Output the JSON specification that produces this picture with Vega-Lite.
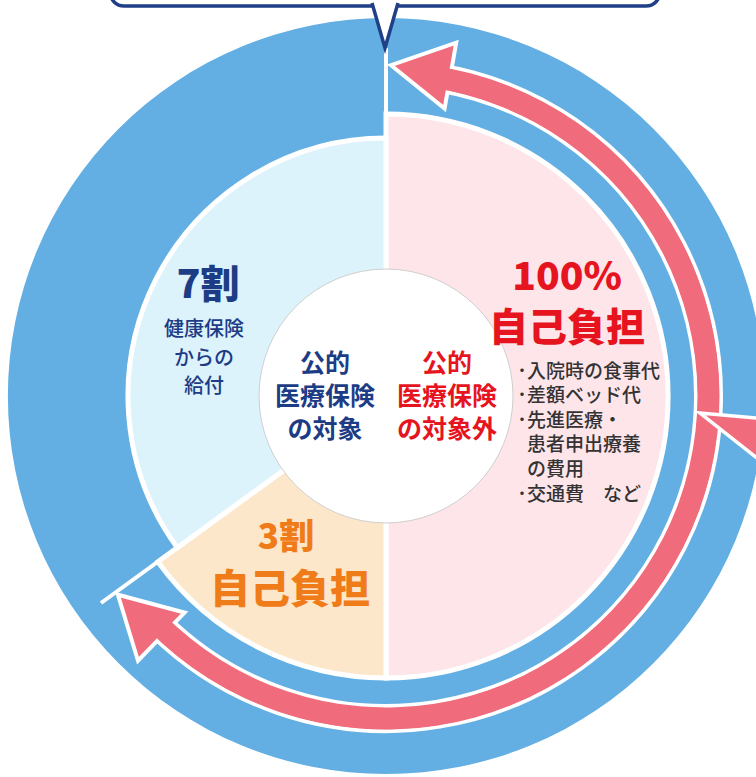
{
  "$schema": "https://vega.github.io/schema/vega-lite/v6.json",
  "width": 740,
  "height": 762,
  "autosize": {"type": "none"},
  "padding": {"left": 16, "top": 15, "right": 0, "bottom": 0},
  "background": "white",
  "config": {"view": {"stroke": null}},
  "datasets": {
    "segments": [
      {"区分": "公的医療保険の対象外（100%自己負担）", "share": 50, "順": 1},
      {"区分": "3割 自己負担", "share": 15, "順": 2},
      {"区分": "7割 健康保険からの給付", "share": 35, "順": 3}
    ]
  },
  "layer": [
    {
      "data": {"values": [{"part": "outer"}]},
      "mark": {"type": "arc", "radius": 378, "radius2": 0, "theta": 0, "theta2": 6.2832, "fill": "#63afe3"},
      "encoding": {}
    },
    {
      "data": {"values": [{"part": "band"}]},
      "mark": {"type": "arc", "radius": 335, "radius2": 310, "theta": 0.16, "theta2": 3.92, "fill": "#f06b7b", "stroke": "white", "strokeWidth": 4},
      "encoding": {}
    },
    {
      "data": {"values": [{"x": 38, "y": 325, "dir": 190}, {"x": -244, "y": -222, "dir": 224}]},
      "mark": {"type": "point", "shape": "M1,0 L-0.8,-1 L-0.8,1 Z", "filled": true, "fill": "#f06b7b", "stroke": "white", "strokeWidth": 4, "opacity": 1, "size": 4489},
      "encoding": {
        "x": {"field": "x", "type": "quantitative", "scale": {"domain": [-370, 370], "nice": false, "zero": false}, "axis": null},
        "y": {"field": "y", "type": "quantitative", "scale": {"domain": [-381, 381], "nice": false, "zero": false}, "axis": null},
        "angle": {"field": "dir", "type": "quantitative", "scale": null}
      }
    },
    {
      "data": {"values": [{"part": "band"}]},
      "mark": {"type": "arc", "radius": 333.5, "radius2": 311.5, "theta": 0.14, "theta2": 3.94, "fill": "#f06b7b"},
      "encoding": {}
    },
    {
      "data": {"values": [{"x": 354, "y": -39}]},
      "mark": {"type": "point", "shape": "M1.2,-0.35 L-1,-0.55 L1.2,1.19", "filled": true, "fill": "#f06b7b", "stroke": "white", "strokeWidth": 3.5, "opacity": 1, "size": 6400},
      "encoding": {
        "x": {"field": "x", "type": "quantitative", "scale": {"domain": [-370, 370], "nice": false, "zero": false}, "axis": null},
        "y": {"field": "y", "type": "quantitative", "scale": {"domain": [-381, 381], "nice": false, "zero": false}, "axis": null}
      }
    },
    {
      "data": {"name": "segments"},
      "mark": {"type": "arc", "radius": 282, "stroke": "white", "strokeWidth": 5},
      "encoding": {
        "theta": {"field": "share", "type": "quantitative", "stack": true},
        "order": {"field": "順", "type": "quantitative"},
        "color": {"field": "区分", "type": "nominal", "legend": null,
          "scale": {"domain": ["公的医療保険の対象外（100%自己負担）", "3割 自己負担", "7割 健康保険からの給付"], "range": ["#fde5ea", "#fde7cb", "#ddf3fc"]}},
        "opacity": {"condition": {"test": "datum['順'] === 3", "value": 0}, "value": 1}
      }
    },
    {
      "data": {"name": "segments"},
      "mark": {"type": "arc", "radius": 258, "stroke": "white", "strokeWidth": 5},
      "encoding": {
        "theta": {"field": "share", "type": "quantitative", "stack": true},
        "order": {"field": "順", "type": "quantitative"},
        "color": {"field": "区分", "type": "nominal", "legend": null},
        "opacity": {"condition": {"test": "datum['順'] === 3", "value": 1}, "value": 0}
      }
    },
    {
      "data": {"values": [{"x": 0, "y": 0, "x2": 0, "y2": 348}, {"x": 0, "y": 0, "x2": -285, "y2": -207}]},
      "mark": {"type": "rule", "stroke": "white", "strokeWidth": 4},
      "encoding": {
        "x": {"field": "x", "type": "quantitative", "scale": {"domain": [-370, 370], "nice": false, "zero": false}, "axis": null},
        "y": {"field": "y", "type": "quantitative", "scale": {"domain": [-381, 381], "nice": false, "zero": false}, "axis": null},
        "x2": {"field": "x2"},
        "y2": {"field": "y2"}
      }
    },
    {
      "data": {"values": [{"part": "center"}]},
      "mark": {"type": "arc", "radius": 127, "radius2": 0, "theta": 0, "theta2": 6.2832, "fill": "white", "stroke": "#cfcfcf", "strokeWidth": 1},
      "encoding": {}
    },
    {
      "data": {"values": [{"x": -276, "x2": 274, "y": 390, "y2": 440}]},
      "mark": {"type": "rect", "fill": "white", "stroke": "#1f3f87", "strokeWidth": 3.5, "cornerRadius": 14},
      "encoding": {
        "x": {"field": "x", "type": "quantitative", "scale": {"domain": [-370, 370], "nice": false, "zero": false}, "axis": null},
        "y": {"field": "y", "type": "quantitative", "scale": {"domain": [-381, 381], "nice": false, "zero": false}, "axis": null},
        "x2": {"field": "x2"},
        "y2": {"field": "y2"}
      }
    },
    {
      "data": {"values": [{"x": -1, "y": 370}]},
      "mark": {"type": "point", "shape": "M-0.52,-0.92 L0,0.88 L0.52,-0.92", "filled": true, "fill": "white", "stroke": "#1f3f87", "strokeWidth": 3.5, "opacity": 1, "size": 2500},
      "encoding": {
        "x": {"field": "x", "type": "quantitative", "scale": {"domain": [-370, 370], "nice": false, "zero": false}, "axis": null},
        "y": {"field": "y", "type": "quantitative", "scale": {"domain": [-381, 381], "nice": false, "zero": false}, "axis": null}
      }
    },
    {
      "data": {"values": [{"t": "7割", "x": -178, "y": 110}]},
      "mark": {"type": "text", "font": "Noto Sans CJK JP", "fontSize": 39, "fontWeight": 900, "fill": "#1d3c86", "align": "center", "baseline": "middle"},
      "encoding": {
        "x": {"field": "x", "type": "quantitative", "scale": {"domain": [-370, 370], "nice": false, "zero": false}, "axis": null},
        "y": {"field": "y", "type": "quantitative", "scale": {"domain": [-381, 381], "nice": false, "zero": false}, "axis": null},
        "text": {"field": "t"}
      }
    },
    {
      "data": {"values": [{"t": "健康保険\nからの\n給付", "x": -182, "y": 66}]},
      "mark": {"type": "text", "font": "Noto Sans CJK JP", "fontSize": 20, "fontWeight": 500, "fill": "#1d3c86", "align": "center", "baseline": "middle", "lineBreak": "\n", "lineHeight": 28.5},
      "encoding": {
        "x": {"field": "x", "type": "quantitative", "scale": {"domain": [-370, 370], "nice": false, "zero": false}, "axis": null},
        "y": {"field": "y", "type": "quantitative", "scale": {"domain": [-381, 381], "nice": false, "zero": false}, "axis": null},
        "text": {"field": "t"}
      }
    },
    {
      "data": {"values": [{"t": "公的\n医療保険\nの対象", "x": -61, "y": 32}]},
      "mark": {"type": "text", "font": "Noto Sans CJK JP", "fontSize": 25, "fontWeight": "bold", "fill": "#1d3c86", "align": "center", "baseline": "middle", "lineBreak": "\n", "lineHeight": 33},
      "encoding": {
        "x": {"field": "x", "type": "quantitative", "scale": {"domain": [-370, 370], "nice": false, "zero": false}, "axis": null},
        "y": {"field": "y", "type": "quantitative", "scale": {"domain": [-381, 381], "nice": false, "zero": false}, "axis": null},
        "text": {"field": "t"}
      }
    },
    {
      "data": {"values": [{"t": "公的\n医療保険\nの対象外", "x": 61, "y": 32}]},
      "mark": {"type": "text", "font": "Noto Sans CJK JP", "fontSize": 25, "fontWeight": "bold", "fill": "#e6141f", "align": "center", "baseline": "middle", "lineBreak": "\n", "lineHeight": 33},
      "encoding": {
        "x": {"field": "x", "type": "quantitative", "scale": {"domain": [-370, 370], "nice": false, "zero": false}, "axis": null},
        "y": {"field": "y", "type": "quantitative", "scale": {"domain": [-381, 381], "nice": false, "zero": false}, "axis": null},
        "text": {"field": "t"}
      }
    },
    {
      "data": {"values": [{"t": "100%", "x": 181, "y": 118}, {"t": "自己負担", "x": 181, "y": 67}]},
      "mark": {"type": "text", "font": "Noto Sans CJK JP", "fontSize": 39, "fontWeight": 900, "fill": "#e6141f", "align": "center", "baseline": "middle"},
      "encoding": {
        "x": {"field": "x", "type": "quantitative", "scale": {"domain": [-370, 370], "nice": false, "zero": false}, "axis": null},
        "y": {"field": "y", "type": "quantitative", "scale": {"domain": [-381, 381], "nice": false, "zero": false}, "axis": null},
        "text": {"field": "t"}
      }
    },
    {
      "data": {"values": [{"t": "入院時の食事代\n差額ベッド代\n先進医療・\n患者申出療養\nの費用\n交通費　など", "x": 141, "y": 24.5}]},
      "mark": {"type": "text", "font": "Noto Sans CJK JP", "fontSize": 19, "fontWeight": 500, "fill": "#333333", "align": "left", "baseline": "middle", "lineBreak": "\n", "lineHeight": 24.6},
      "encoding": {
        "x": {"field": "x", "type": "quantitative", "scale": {"domain": [-370, 370], "nice": false, "zero": false}, "axis": null},
        "y": {"field": "y", "type": "quantitative", "scale": {"domain": [-381, 381], "nice": false, "zero": false}, "axis": null},
        "text": {"field": "t"}
      }
    },
    {
      "data": {"values": [{"t": "･\n･\n･", "x": 136, "y": 24.5}, {"t": "･", "x": 136, "y": -98.5}]},
      "mark": {"type": "text", "font": "Noto Sans CJK JP", "fontSize": 19, "fontWeight": 500, "fill": "#333333", "align": "center", "baseline": "middle", "lineBreak": "\n", "lineHeight": 24.6},
      "encoding": {
        "x": {"field": "x", "type": "quantitative", "scale": {"domain": [-370, 370], "nice": false, "zero": false}, "axis": null},
        "y": {"field": "y", "type": "quantitative", "scale": {"domain": [-381, 381], "nice": false, "zero": false}, "axis": null},
        "text": {"field": "t"}
      }
    },
    {
      "data": {"values": [{"t": "3割", "x": -100, "y": -142, "s": 35}, {"t": "自己負担", "x": -96, "y": -195, "s": 40}]},
      "mark": {"type": "text", "font": "Noto Sans CJK JP", "fontWeight": 900, "fill": "#f07c19", "align": "center", "baseline": "middle"},
      "encoding": {
        "x": {"field": "x", "type": "quantitative", "scale": {"domain": [-370, 370], "nice": false, "zero": false}, "axis": null},
        "y": {"field": "y", "type": "quantitative", "scale": {"domain": [-381, 381], "nice": false, "zero": false}, "axis": null},
        "text": {"field": "t"},
        "size": {"field": "s", "type": "quantitative", "scale": null}
      }
    }
  ]
}
